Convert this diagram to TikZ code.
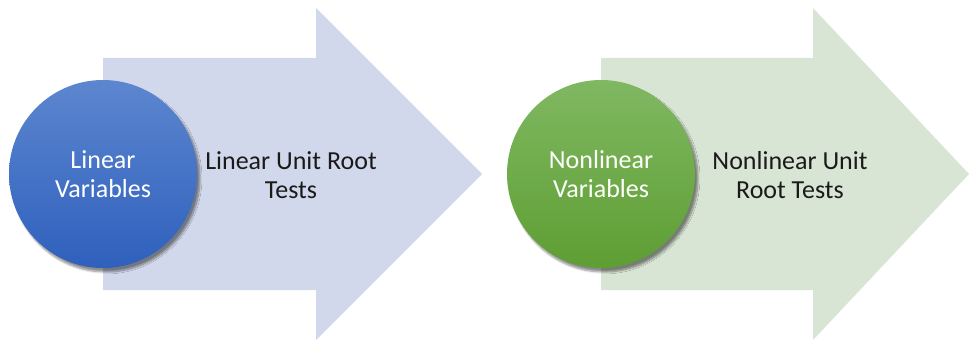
\documentclass[tikz,border=0pt]{standalone}
\usepackage{fontspec}
\setmainfont{Carlito}
\usetikzlibrary{shadows.blur}
\definecolor{arrowA}{HTML}{D1D8EB}
\definecolor{arrowB}{HTML}{D9E5D4}
\definecolor{blueTop}{HTML}{5D86CF}
\definecolor{blueBot}{HTML}{2E60BD}
\definecolor{greenTop}{HTML}{80B862}
\definecolor{greenBot}{HTML}{5E9E33}
\definecolor{txt}{HTML}{1A1A1A}
\tikzset{
  x=1pt, y=-1pt,
  bigarrow/.style={draw=none},
  ball/.style={circle, minimum size=188pt, inner sep=0pt, draw=none,
    blur shadow={shadow xshift=3pt, shadow yshift=-4pt, shadow blur steps=8, shadow opacity=45},
    text=white, align=center, font=\fontsize{26}{29.5}\selectfont},
  label/.style={text=txt, align=center, font=\fontsize{26}{29.5}\selectfont}
}
\begin{document}
\begin{tikzpicture}
\useasboundingbox (0,0) rectangle (970,342);
% arrow 1
\fill[arrowA] (103,58) -- (316,58) -- (316,8) -- (482,174) -- (316,340) -- (316,290) -- (103,290) -- cycle;
% arrow 2
\fill[arrowB] (601,58) -- (813,58) -- (813,8) -- (969,174) -- (813,340) -- (813,290) -- (601,290) -- cycle;
\node[ball, top color=blueTop, bottom color=blueBot] (c1) at (103,174) {Linear\\Variables};
\node[ball, top color=greenTop, bottom color=greenBot] (c2) at (601,174) {Nonlinear\\Variables};
\node[label] (t1) at (291,175) {Linear Unit Root\\Tests};
\node[label] (t2) at (790,175) {Nonlinear Unit\\Root Tests};
\end{tikzpicture}
\end{document}
